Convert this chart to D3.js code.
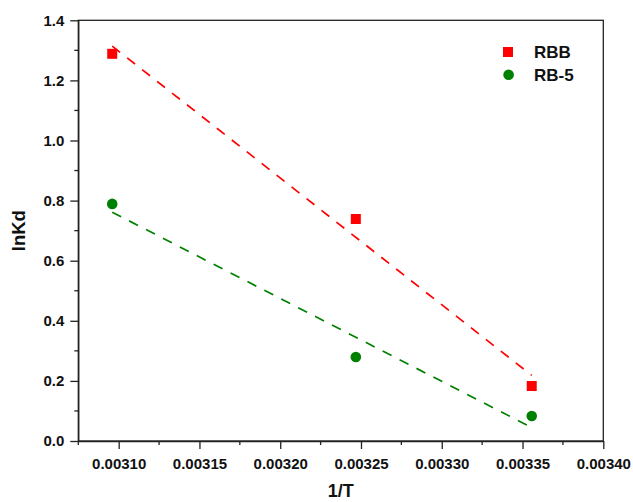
<!DOCTYPE html>
<html>
<head>
<meta charset="utf-8">
<script src="https://cdn.jsdelivr.net/npm/d3@7"></script>
<style>
  html, body { margin: 0; padding: 0; background: #fff; }
  svg { display: block; font-family: "Liberation Sans", Arial, sans-serif; }
</style>
</head>
<body>
<svg id="chart" width="633" height="502"></svg>
<script>
// ---- data ----
const invT = [0.003096, 0.0032468, 0.0033557];
const rbb = [1.2885, 0.7388, 0.183];
const rb5 = [0.789, 0.2795, 0.083];
const seriesNames = ["RBB", "RB-5"];
const seriesColors = ["#ff0000", "#008000"];
const xTicks = [0.00310, 0.00315, 0.00320, 0.00325, 0.00330, 0.00335, 0.00340];
const yTicks = [0.0, 0.2, 0.4, 0.6, 0.8, 1.0, 1.2, 1.4];
const xMinor = [0.003075, 0.003125, 0.003175, 0.003225, 0.003275, 0.003325, 0.003375];
const yMinor = [0.1, 0.3, 0.5, 0.7, 0.9, 1.1, 1.3];

const svg = d3.select("#chart");
const L = 78.3, R = 603.3, T = 20.3, B = 441;

const x = d3.scaleLinear().domain([0.003075, 0.0034]).range([L, R]);
const y = d3.scaleLinear().domain([0, 1.4]).range([B, T]);

const axisColor = "#222";

// frame
svg.append("rect").attr("x", L).attr("y", T).attr("width", R - L).attr("height", B - T)
  .attr("fill", "none").attr("stroke", axisColor).attr("stroke-width", 1.3);

// minor ticks
const gx = svg.append("g").attr("transform", `translate(0,${B})`);
gx.selectAll("line.minor").data(xMinor).enter().append("line")
  .attr("x1", d => x(d)).attr("x2", d => x(d)).attr("y1", 0).attr("y2", 4)
  .attr("stroke", axisColor).attr("stroke-width", 1.3);
const gy = svg.append("g").attr("transform", `translate(${L},0)`);
gy.selectAll("line.minor").data(yMinor).enter().append("line")
  .attr("y1", d => y(d)).attr("y2", d => y(d)).attr("x1", 0).attr("x2", -4)
  .attr("stroke", axisColor).attr("stroke-width", 1.3);

// major axes
const xAxis = d3.axisBottom(x).tickValues(xTicks).tickFormat(d3.format(".5f"))
  .tickSize(8).tickPadding(9.5).tickSizeOuter(0);
const yAxis = d3.axisLeft(y).tickValues(yTicks).tickFormat(d3.format(".1f"))
  .tickSize(8).tickPadding(6).tickSizeOuter(0);

const ax = svg.append("g").attr("transform", `translate(0,${B})`).call(xAxis);
const ay = svg.append("g").attr("transform", `translate(${L},0)`).call(yAxis);
[ax, ay].forEach(g => {
  g.select(".domain").attr("stroke", axisColor).attr("stroke-width", 1.3);
  g.selectAll(".tick line").attr("stroke", axisColor).attr("stroke-width", 1.3);
  g.selectAll(".tick text").attr("fill", "#111").style("font-size", "15px").style("font-weight", "bold")
    .style("font-family", "'Liberation Sans', Arial, sans-serif");
});

// axis titles
svg.append("text").attr("x", (L + R) / 2).attr("y", 497).attr("text-anchor", "middle")
  .style("font-size", "18px").style("font-weight", "bold").attr("fill", "#111").text("1/T");
svg.append("text").attr("transform", `translate(25,${(T + B) / 2}) rotate(-90)`)
  .attr("text-anchor", "middle")
  .style("font-size", "18.5px").style("font-weight", "bold").attr("fill", "#111").text("lnKd");

// linear fit from data
function fit(xs, ys) {
  const mx = d3.mean(xs), my = d3.mean(ys);
  let sxy = 0, sxx = 0;
  xs.forEach((xv, i) => { sxy += (xv - mx) * (ys[i] - my); sxx += (xv - mx) * (xv - mx); });
  const b = sxy / sxx, a = my - b * mx;
  const x0 = d3.min(xs), x1 = d3.max(xs);
  return [[x0, a + b * x0], [x1, a + b * x1]];
}

const allSeries = [rbb, rb5];
const line = d3.line().x(d => x(d[0])).y(d => y(d[1]));
allSeries.forEach((ys, i) => {
  svg.append("path").datum(fit(invT, ys)).attr("d", line)
    .attr("fill", "none").attr("stroke", seriesColors[i]).attr("stroke-width", 1.7)
    .attr("stroke-dasharray", "10,9");
});

// markers
const sq = 10, rad = 5.3;
svg.selectAll("rect.rbb").data(invT).enter().append("rect")
  .attr("x", (d) => x(d) - sq / 2).attr("y", (d, i) => y(rbb[i]) - sq / 2)
  .attr("width", sq).attr("height", sq).attr("fill", seriesColors[0]);
svg.selectAll("circle.rb5").data(invT).enter().append("circle")
  .attr("cx", d => x(d)).attr("cy", (d, i) => y(rb5[i])).attr("r", rad).attr("fill", seriesColors[1]);

// legend
const lg = svg.append("g");
lg.append("rect").attr("x", 508 - sq / 2).attr("y", 52 - sq / 2).attr("width", sq).attr("height", sq)
  .attr("fill", seriesColors[0]);
lg.append("circle").attr("cx", 508.6).attr("cy", 74.7).attr("r", rad).attr("fill", seriesColors[1]);
seriesNames.forEach((n, i) => {
  lg.append("text").attr("x", 534).attr("y", 58 + i * 23)
    .style("font-size", "17px").style("font-weight", "bold").attr("fill", "#111").text(n);
});
</script>
</body>
</html>
